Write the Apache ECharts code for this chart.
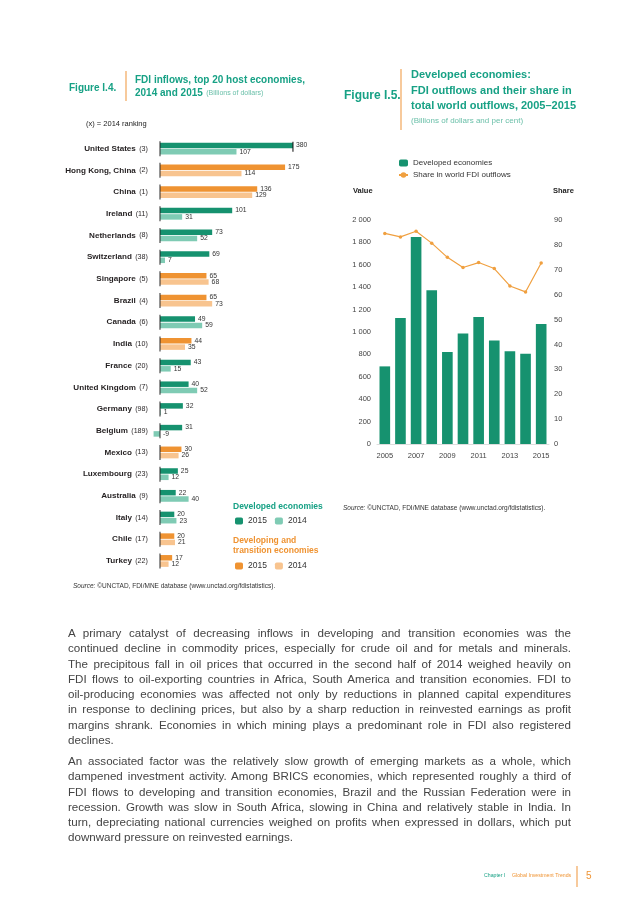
<!DOCTYPE html>
<html><head><meta charset="utf-8">
<script src="https://cdn.jsdelivr.net/npm/echarts@6/dist/echarts.min.js"></script>
<style>
html,body{margin:0;padding:0;background:#fff;}
#c{position:absolute;left:0;top:0;width:638px;height:903px;}
#txt{position:absolute;left:68px;top:625px;width:503px;font-family:'Liberation Sans',Arial,sans-serif;font-size:11.6px;color:#444;}
.l{height:15.3px;line-height:15.3px;text-align:justify;text-align-last:justify;overflow:hidden;}
.e{text-align-last:left;}
.gap{height:5.6px;}
</style></head><body>
<div id="c"></div>
<div id="txt">
<div class="l">A primary catalyst of decreasing inflows in developing and transition economies was the</div>
<div class="l">continued decline in commodity prices, especially for crude oil and for metals and minerals.</div>
<div class="l">The precipitous fall in oil prices that occurred in the second half of 2014 weighed heavily on</div>
<div class="l">FDI flows to oil-exporting countries in Africa, South America and transition economies. FDI to</div>
<div class="l">oil-producing economies was affected not only by reductions in planned capital expenditures</div>
<div class="l">in response to declining prices, but also by a sharp reduction in reinvested earnings as profit</div>
<div class="l">margins shrank. Economies in which mining plays a predominant role in FDI also registered</div>
<div class="l e">declines.</div>
<div class="gap"></div>
<div class="l">An associated factor was the relatively slow growth of emerging markets as a whole, which</div>
<div class="l">dampened investment activity. Among BRICS economies, which represented roughly a third of</div>
<div class="l">FDI flows to developing and transition economies, Brazil and the Russian Federation were in</div>
<div class="l">recession. Growth was slow in South Africa, slowing in China and relatively stable in India. In</div>
<div class="l">turn, depreciating national currencies weighed on profits when expressed in dollars, which put</div>
<div class="l e">downward pressure on reinvested earnings.</div>
</div>
<script>
const countries = ['United States','Hong Kong, China','China','Ireland','Netherlands','Switzerland','Singapore','Brazil','Canada','India','France','United Kingdom','Germany','Belgium','Mexico','Luxembourg','Australia','Italy','Chile','Turkey'];
const ranking2014 = [3,2,1,11,8,38,5,4,6,10,20,7,98,189,13,23,9,14,17,22];
const inflows2015 = [380,175,136,101,73,69,65,65,49,44,43,40,32,31,30,25,22,20,20,17];
const inflows2014 = [107,114,129,31,52,7,68,73,59,35,15,52,1,-9,26,12,40,23,21,12];
const isDeveloped = [1,0,0,1,1,1,0,0,1,0,1,1,1,1,0,1,1,1,0,0];

const years = ['2005','2006','2007','2008','2009','2010','2011','2012','2013','2014','2015'];
const outflows = [693,1125,1848,1373,821,987,1133,923,829,805,1072];
const shareWorld = [84.6,83.2,85.5,80.7,75.0,70.9,72.9,70.5,63.5,61.1,72.7];

const FONT = "'Liberation Sans',Arial,sans-serif";
const TEAL = '#17a185', DARK = '#16926f', LIGHT = '#7fcbb4', ORG = '#ef9332', LORG = '#f8c48f';
const X_MAX = 186;

const pick = (arr, flag) => arr.map((v, i) => isDeveloped[i] === flag ? v : null);
const valLabel = {show:true, position:'right', distance:3, fontSize:6.8, fontFamily:FONT, color:'#333', formatter: p => p.value};
const fmtK = v => v >= 1000 ? String(v).replace(/(\d)(\d{3})$/, '$1 $2') : String(v);

const chart = echarts.init(document.getElementById('c'), null, {renderer:'canvas'});
const T = (text, x, y, style) => ({type:'text', x, y, style: Object.assign({text, fontFamily:FONT, verticalAlign:'middle'}, style)});
const V = (x, y1, y2, color) => ({type:'line', shape:{x1:x, y1, x2:x, y2}, style:{stroke:color, lineWidth:1.2}});
const srcText = x => ({type:'text', x, y: 0, style:{text:'{i|Source:} ©UNCTAD, FDI/MNE database (www.unctad.org/fdistatistics).', verticalAlign:'middle',
      fontSize:6.5, fill:'#333', fontFamily:FONT, rich:{i:{fontStyle:'italic', fontSize:6.5, fill:'#333', fontFamily:FONT}}}});

chart.setOption({
  animation:false,
  textStyle:{fontFamily:FONT},
  grid:[
    {left:152.85, top:137.8, width:140.1, height:434},
    {left:377, top:220, width:172, height:224}
  ],
  xAxis:[
    {gridIndex:0, type:'value', min:-10, max:X_MAX, show:false},
    {gridIndex:1, type:'category', data:years, axisTick:{show:false},
     axisLine:{lineStyle:{color:'#ddd'}},
     axisLabel:{interval:1, fontSize:7.5, color:'#444', margin:8}}
  ],
  yAxis:[
    {gridIndex:0, type:'category', data:countries, inverse:true,
     axisLine:{show:false, onZero:false}, axisTick:{show:false},
     axisLabel:{margin:5, formatter:(v, i) => '{n|' + v + '} {p|(' + ranking2014[i] + ')}',
       rich:{n:{fontSize:8.1, fontWeight:'bold', color:'#231f20', fontFamily:FONT}, p:{fontSize:7.1, color:'#231f20', fontFamily:FONT}}}},
    {gridIndex:1, type:'value', min:0, max:2000, interval:200, axisLine:{show:false}, axisTick:{show:false},
     splitLine:{show:false}, axisLabel:{fontSize:7.5, color:'#444', margin:6, formatter:fmtK}},
    {gridIndex:1, type:'value', min:0, max:90, interval:10, position:'right', axisLine:{show:false}, axisTick:{show:false},
     splitLine:{show:false}, axisLabel:{fontSize:7.5, color:'#444', margin:5}}
  ],
  legend:[
    {data:['D2015','D2014'], left:235, top:516.5, padding:0, itemWidth:8, itemHeight:7, itemGap:8, icon:'roundRect',
     formatter:n => n.slice(1), textStyle:{fontSize:8.5, color:'#333', fontFamily:FONT}},
    {data:['T2015','T2014'], left:235, top:561.5, padding:0, itemWidth:8, itemHeight:7, itemGap:8, icon:'roundRect',
     formatter:n => n.slice(1), textStyle:{fontSize:8.5, color:'#333', fontFamily:FONT}},
    {data:['Developed economies','Share in world FDI outflows'], orient:'vertical', left:393, top:154,
     itemWidth:9, itemHeight:7, itemGap:4, textStyle:{fontSize:8, color:'#333', fontFamily:FONT}}
  ],
  series:[
    {name:'D2015', type:'bar', stack:'y15', xAxisIndex:0, yAxisIndex:0, data:pick(inflows2015,1), itemStyle:{color:DARK}, barWidth:5.5, barGap:'15%', label:valLabel},
    {name:'T2015', type:'bar', stack:'y15', xAxisIndex:0, yAxisIndex:0, data:pick(inflows2015,0), itemStyle:{color:ORG}, barWidth:5.5, barGap:'15%', label:valLabel},
    {name:'D2014', type:'bar', stack:'y14', xAxisIndex:0, yAxisIndex:0, data:pick(inflows2014,1), itemStyle:{color:LIGHT}, barWidth:5.5, barGap:'15%', label:valLabel},
    {name:'T2014', type:'bar', stack:'y14', xAxisIndex:0, yAxisIndex:0, data:pick(inflows2014,0), itemStyle:{color:LORG}, barWidth:5.5, barGap:'15%', label:valLabel},
    {type:'scatter', xAxisIndex:0, yAxisIndex:0, silent:true, symbol:'rect', symbolSize:[1.2,15], itemStyle:{color:'#222'}, z:5,
     data:countries.map((c, i) => [0, i])},
    {type:'scatter', xAxisIndex:0, yAxisIndex:0, silent:true, symbol:'rect', symbolSize:[1.3,10], symbolOffset:[0,-2], itemStyle:{color:'#111'}, z:5,
     data:[[X_MAX, 0]]},
    {name:'Developed economies', type:'bar', xAxisIndex:1, yAxisIndex:1, data:outflows, barWidth:'68%', itemStyle:{color:DARK}},
    {name:'Share in world FDI outflows', type:'line', xAxisIndex:1, yAxisIndex:2, data:shareWorld, symbol:'circle', symbolSize:3.5,
     itemStyle:{color:'#f0a040'}, lineStyle:{color:'#f0a040', width:1.2}}
  ],
  graphic:[
    T('Figure I.4.', 69, 88, {fontSize:10, fontWeight:'bold', fill:TEAL}),
    V(126, 71, 101, '#f2a65a'),
    T('FDI inflows, top 20 host economies,', 135, 80, {fontSize:10, fontWeight:'bold', fill:TEAL}),
    {type:'text', x:135, y:93, style:{text:'{b|2014 and 2015} {l|(Billions of dollars)}', verticalAlign:'middle',
      rich:{b:{fontSize:10, fontWeight:'bold', fill:TEAL, fontFamily:FONT}, l:{fontSize:7, fill:'#6cc0aa', fontFamily:FONT}}}},
    T('(x) = 2014 ranking', 86, 124, {fontSize:7.5, fill:'#222'}),
    T('Developed economies', 233, 507, {fontSize:8.5, fontWeight:'bold', fill:TEAL}),
    T('Developing and', 233, 541, {fontSize:8.5, fontWeight:'bold', fill:ORG}),
    T('transition economies', 233, 551, {fontSize:8.5, fontWeight:'bold', fill:ORG}),
    Object.assign(srcText(73), {y:586}),
    T('Figure I.5.', 344, 96, {fontSize:12, fontWeight:'bold', fill:TEAL}),
    V(401, 69, 130, '#f2a65a'),
    T('Developed economies:', 411, 75, {fontSize:11, fontWeight:'bold', fill:TEAL}),
    T('FDI outflows and their share in', 411, 91, {fontSize:11, fontWeight:'bold', fill:TEAL}),
    T('total world outflows, 2005–2015', 411, 106, {fontSize:11, fontWeight:'bold', fill:TEAL}),
    T('(Billions of dollars and per cent)', 411, 121, {fontSize:8, fill:'#6cc0aa'}),
    T('Value', 353, 191, {fontSize:7.5, fontWeight:'bold', fill:'#222'}),
    T('Share', 553, 191, {fontSize:7.5, fontWeight:'bold', fill:'#222'}),
    Object.assign(srcText(343), {y:508}),
    {type:'text', x:484, y:876, style:{text:'{t|Chapter I}  {o|Global Investment Trends}', verticalAlign:'middle',
      rich:{t:{fontSize:5.2, fill:TEAL, fontFamily:FONT}, o:{fontSize:5.2, fill:ORG, fontFamily:FONT}}}},
    V(577, 866, 887, '#f2a65a'),
    T('5', 586, 876, {fontSize:10, fill:ORG})
  ]
});
</script>
</body></html>
